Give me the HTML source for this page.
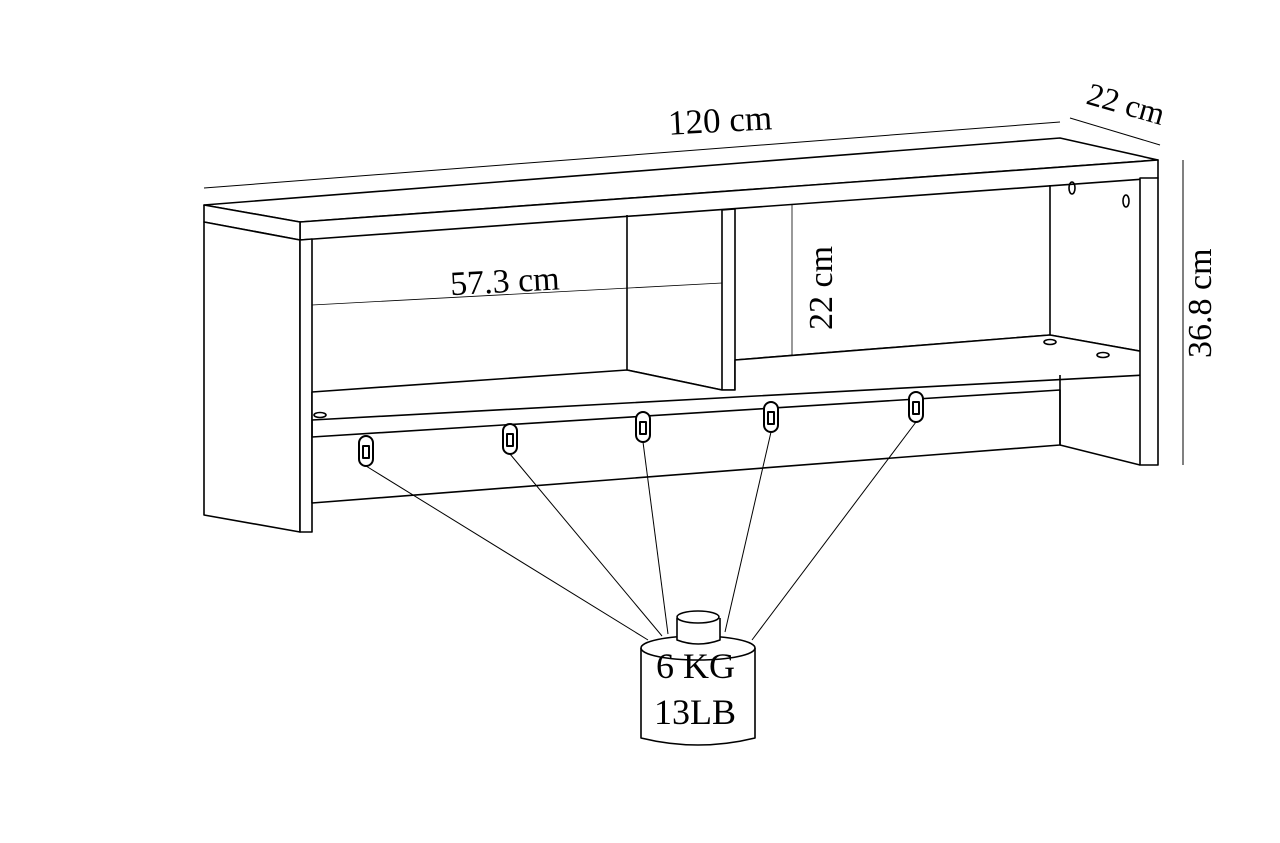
<!DOCTYPE html>
<html><head><meta charset="utf-8"><style>
html,body{margin:0;padding:0;background:#fff;}
svg{display:block;}
text{font-family:"Liberation Serif",serif;fill:#000;}
</style></head><body>
<svg width="1280" height="843" viewBox="0 0 1280 843" xmlns="http://www.w3.org/2000/svg">
<g fill="none" stroke="#000" stroke-width="1.6" stroke-linejoin="round">
<line x1="204" y1="188" x2="1060" y2="122" stroke-width="1"/>
<line x1="1070" y1="118" x2="1160" y2="145" stroke-width="1"/>
<line x1="1183" y1="160" x2="1183" y2="465" stroke-width="1"/>
<polygon points="204,205 1060,138 1158,160 300,222" fill="#fff"/>
<polygon points="300,222 1158,160 1158,178 300,240" fill="#fff"/>
<polygon points="204,205 300,222 300,240 204,222" fill="#fff"/>
<polygon points="204,222 300,240 300,532 204,515" fill="#fff"/>
<polygon points="300,240 312,239 312,532 300,532" fill="#fff"/>
<line x1="312" y1="305" x2="722" y2="283" stroke-width="0.8"/>
<line x1="627" y1="215" x2="627" y2="370"/>
<line x1="627" y1="370" x2="722" y2="390"/>
<line x1="792" y1="205" x2="792" y2="380" stroke-width="0.8"/>
<line x1="1050" y1="185" x2="1050" y2="335"/>
<line x1="735" y1="360" x2="1050" y2="335"/>
<line x1="1050" y1="335" x2="1145" y2="352"/>
<polygon points="722,210 735,209 735,390 722,390" fill="#fff"/>
<polygon points="312,392 627,370 722,390 735,390 735,360 1050,335 1145,352 1145,375 312,420" fill="#fff"/>
<polygon points="312,437 1060,390 1060,445 312,503" fill="#fff"/>
<line x1="312" y1="420" x2="312" y2="437"/>
<polygon points="1140,178 1158,178 1158,465 1140,465" fill="#fff"/>
<line x1="1060" y1="375" x2="1060" y2="445"/>
<line x1="1060" y1="445" x2="1140" y2="465"/>
<ellipse cx="1072" cy="188" rx="3" ry="6"/>
<ellipse cx="1126" cy="201" rx="3" ry="6"/>
<ellipse cx="1050" cy="342" rx="6" ry="2.5"/>
<ellipse cx="1103" cy="355" rx="6" ry="2.5"/>
<ellipse cx="320" cy="415" rx="6" ry="2.5"/>
<g stroke-width="2">
<rect x="359" y="436" width="14" height="30" rx="7" fill="#fff"/><rect x="363" y="446" width="6" height="12"/>
<rect x="503" y="424" width="14" height="30" rx="7" fill="#fff"/><rect x="507" y="434" width="6" height="12"/>
<rect x="636" y="412" width="14" height="30" rx="7" fill="#fff"/><rect x="640" y="422" width="6" height="12"/>
<rect x="764" y="402" width="14" height="30" rx="7" fill="#fff"/><rect x="768" y="412" width="6" height="12"/>
<rect x="909" y="392" width="14" height="30" rx="7" fill="#fff"/><rect x="913" y="402" width="6" height="12"/>
</g>
<g stroke-width="1">
<line x1="366" y1="466" x2="648" y2="640"/>
<line x1="510" y1="454" x2="662" y2="636"/>
<line x1="643" y1="442" x2="668" y2="634"/>
<line x1="771" y1="432" x2="725" y2="632"/>
<line x1="916" y1="422" x2="752" y2="640"/>
</g>
<path d="M641,648 L641,738 Q698,752 755,738 L755,648" fill="#fff"/>
<ellipse cx="698" cy="648" rx="57" ry="12" fill="#fff"/>
<path d="M677,618 L677,640 Q698,648 720,640 L720,618" fill="#fff"/>
<ellipse cx="698" cy="617" rx="21" ry="6" fill="#fff"/>
</g>
<text x="668" y="132" font-size="35" transform="rotate(-3 720 120)">120 cm</text>
<text x="1082" y="115" font-size="32" transform="rotate(16 1125 120)">22 cm</text>
<text x="0" y="0" font-size="34" transform="translate(1211 358) rotate(-90)">36.8 cm</text>
<text x="450" y="292" font-size="34" transform="rotate(-3 510 280)">57.3 cm</text>
<text x="0" y="0" font-size="34" transform="translate(832 330) rotate(-90)">22 cm</text>
<text x="656" y="678" font-size="36">6 KG</text>
<text x="654" y="724" font-size="36">13LB</text>
</svg>
</body></html>
